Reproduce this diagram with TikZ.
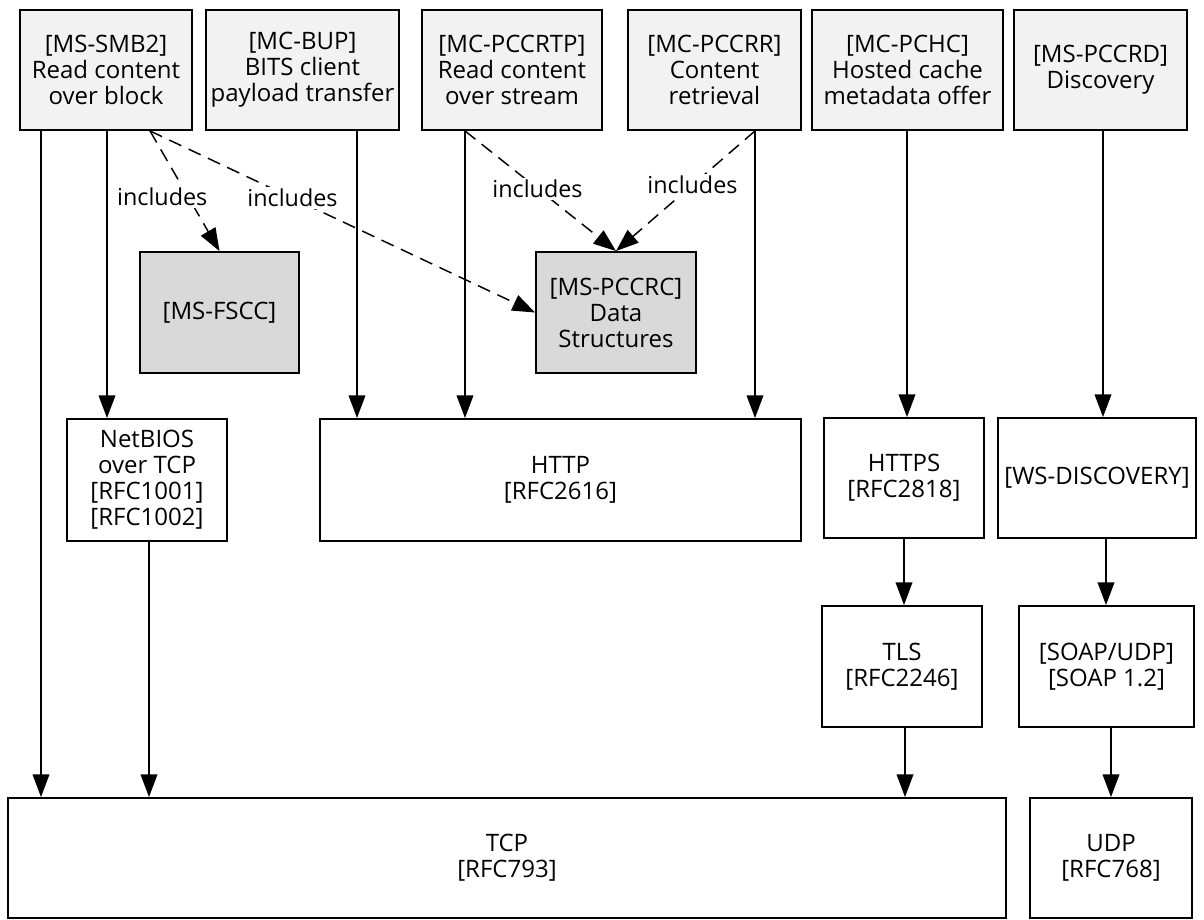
\documentclass[tikz,border=0pt]{standalone}
\usepackage{fontspec}
\setmainfont{Open Sans}
\usetikzlibrary{arrows.meta,calc}
\definecolor{topgray}{HTML}{F2F2F2}
\definecolor{midgray}{HTML}{D9D9D9}
\begin{document}
\begin{tikzpicture}[x=0.75pt,y=-0.75pt,
  box/.style={draw=black,line width=1.4pt,rectangle,align=center,inner sep=0pt,
    font=\fontsize{18}{19.5}\selectfont},
  wh/.style 2 args={minimum width=#1*0.75pt,minimum height=#2*0.75pt},
  topbox/.style={box,fill=topgray},
  incbox/.style={box,fill=midgray},
  plainbox/.style={box,fill=white},
  arr/.style={line width=1.1pt,-{Triangle[length=17pt,width=12.5pt]}},
  darr/.style={arr,dash pattern=on 10pt off 6pt},
  lbl/.style={fill=white,inner sep=1.5pt,font=\fontsize{17.5}{19}\selectfont}
]
\useasboundingbox (0,0) rectangle (1204,920);
% top row
\node[topbox,wh={172}{120}] (smb2) at (106,70) {[MS-SMB2]\\Read content\\over block};
\node[topbox,wh={193}{120}] (bup) at (302.5,70) {[MC-BUP]\\BITS client\\payload transfer};
\node[topbox,wh={180}{120}] (pccrtp) at (512,70) {[MC-PCCRTP]\\Read content\\over stream};
\node[topbox,wh={173}{120}] (pccrr) at (714.5,70) {[MC-PCCRR]\\Content\\retrieval};
\node[topbox,wh={191}{120}] (pchc) at (907.5,70) {[MC-PCHC]\\Hosted cache\\metadata offer};
\node[topbox,wh={173}{120}] (pccrd) at (1100.5,70) {[MS-PCCRD]\\Discovery};
% included
\node[incbox,wh={159}{121}] (fscc) at (219.5,312.5) {[MS-FSCC]};
\node[incbox,wh={160}{121}] (pccrc) at (616,312.5) {[MS-PCCRC]\\Data\\Structures};
% middle row
\node[plainbox,wh={160}{122}] (netbios) at (147,480) {NetBIOS\\over TCP\\{[RFC1001]}\\{[RFC1002]}};
\node[plainbox,wh={481}{122}] (http) at (560.5,480) {HTTP\\{[RFC2616]}};
\node[plainbox,wh={160}{120}] (https) at (904,478) {HTTPS\\{[RFC2818]}};
\node[plainbox,wh={198}{120}] (wsd) at (1097,478) {[WS-DISCOVERY]};
\node[plainbox,wh={160}{121}] (tls) at (902,666.5) {TLS\\{[RFC2246]}};
\node[plainbox,wh={175}{121}] (soap) at (1106.5,666.5) {[SOAP/UDP]\\{[SOAP 1.2]}};
% bottom row
\node[plainbox,wh={998}{120}] (tcp) at (507,858) {TCP\\{[RFC793]}};
\node[plainbox,wh={162}{120}] (udp) at (1111,858) {UDP\\{[RFC768]}};
% x positions of vertical connectors
\coordinate (x1) at (41,0);
\coordinate (x2) at (107,0);
\coordinate (x3) at (357,0);
\coordinate (x4) at (465,0);
\coordinate (x5) at (755,0);
\coordinate (x6) at (907,0);
\coordinate (x7) at (1103,0);
\coordinate (x8) at (904,0);
\coordinate (x9) at (1106,0);
\coordinate (x10) at (149,0);
\coordinate (x11) at (905,0);
\coordinate (x12) at (1111,0);
\draw[arr] (smb2.south -| x1) -- (tcp.north -| x1);
\draw[arr] (smb2.south -| x2) -- (netbios.north -| x2);
\draw[arr] (bup.south -| x3) -- (http.north -| x3);
\draw[arr] (pccrtp.south -| x4) -- (http.north -| x4);
\draw[arr] (pccrr.south -| x5) -- (http.north -| x5);
\draw[arr] (pchc.south -| x6) -- (https.north -| x6);
\draw[arr] (pccrd.south -| x7) -- (wsd.north -| x7);
\draw[arr] (https.south -| x8) -- (tls.north -| x8);
\draw[arr] (wsd.south -| x9) -- (soap.north -| x9);
\draw[arr] (netbios.south -| x10) -- (tcp.north -| x10);
\draw[arr] (tls.south -| x11) -- (tcp.north -| x11);
\draw[arr] (soap.south -| x12) -- (udp.north -| x12);
% includes
\draw[darr] ($(smb2.south)+(44,0)$) -- node[lbl,pos=0.55,xshift=-19.5pt] {includes} (fscc.north);
\draw[darr] ($(smb2.south)+(44,0)$) -- node[lbl,pos=0.37] {includes} (pccrc.west);
\draw[darr] (pccrtp.south -| x4) -- node[lbl,pos=0.48] {includes} (pccrc.north);
\draw[darr] (pccrr.south -| x5) -- node[lbl,pos=0.45] {includes} (pccrc.north);
\end{tikzpicture}
\end{document}
